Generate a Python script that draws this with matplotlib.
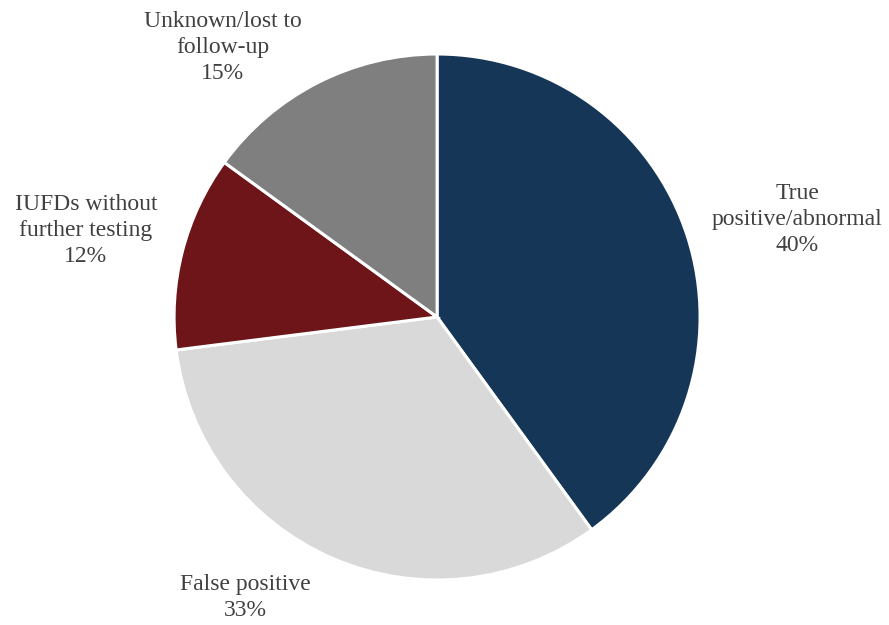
import matplotlib.pyplot as plt

plt.rcParams['font.family'] = ['Liberation Serif', 'DejaVu Serif']

categories = ['True\npositive/abnormal', 'False positive',
              'IUFDs without\nfurther testing', 'Unknown/lost to\nfollow-up']
shares = [40, 33, 12, 15]
colors = ['#153657', '#d9d9d9', '#6d1519', '#7f7f7f']

# label anchor points in pie units (radius = 1)
label_pos = [(1.37, 0.37), (-0.73, -1.065), (-1.335, 0.33), (-0.815, 1.025)]

fig = plt.figure(figsize=(8.89, 6.25), dpi=100)
ax = fig.add_axes([0.1958, 0.072, 0.5917, 0.8416])

ax.pie(shares, colors=colors, startangle=90, counterclock=False,
       radius=1.0, wedgeprops=dict(edgecolor='white', linewidth=2.2))
ax.set_xlim(-1, 1)
ax.set_ylim(-1, 1)
ax.set_aspect('equal')
ax.axis('off')

for name, val, (x, y) in zip(categories, shares, label_pos):
    ax.text(x, y, f'{name}\n{val}%', ha='center', va='center',
            fontsize=17, color='#404040', linespacing=1.32, clip_on=False)

fig.savefig('out.png', dpi=100)
